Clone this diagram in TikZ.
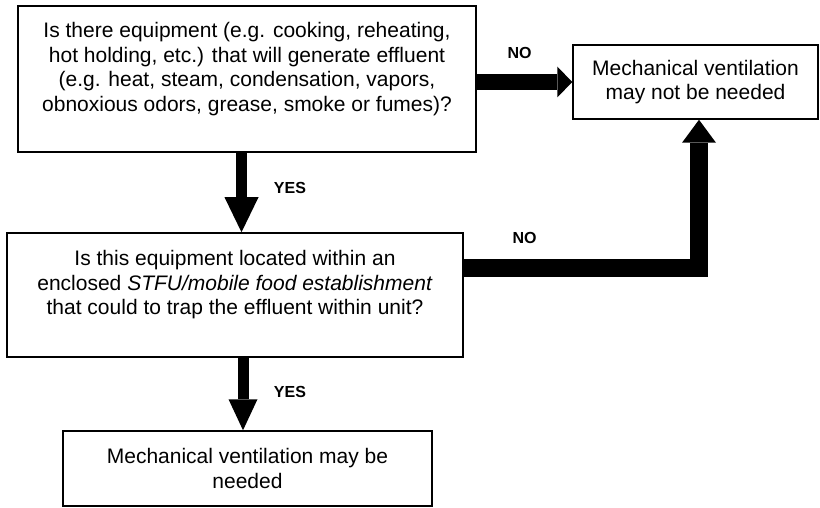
\documentclass[tikz,border=0pt]{standalone}
\usepackage{fontspec}
\setmainfont{Liberation Sans}
\usetikzlibrary{arrows.meta}

\begin{document}
\begin{tikzpicture}[x=1pt, y=-1pt, line join=miter,
      font=\fontsize{21}{24.5}\selectfont,
      box/.style={draw, line width=1.5pt, align=center, inner sep=0pt},
      answer/.style={font=\fontsize{16}{18}\selectfont\bfseries, inner sep=0pt},
      fat/.style={line width=#1}]
    \useasboundingbox (0,0) rectangle (820,508);
    % ==== decision boxes ====
    \node[box, minimum width=458, minimum height=146] (q1) at (247,79)
      {Is there equipment (e.g. cooking, reheating,\\
       hot holding, etc.) that will generate effluent\\
       (e.g. heat, steam, condensation, vapors,\\
       obnoxious odors, grease, smoke or fumes)?\\ \mbox{}};
    \node[box, minimum width=456, minimum height=124] (q3) at (235,295)
      {Is this equipment located within an\\
       enclosed \textit{STFU/mobile food establishment}\\
       that could to trap the effluent within unit?\\ \mbox{}};
    % ==== outcome boxes ====
    \node[box, minimum width=245, minimum height=74] (notNeeded) at (695.5,82)
      {Mechanical ventilation\\ may not be needed};
    \node[box, minimum width=369, minimum height=75] (needed) at (247.5,468.5)
      {Mechanical ventilation may be\\ needed};
    % ==== answers ====
    \node[answer] (yes1) at (290,188) {YES};
    \node[answer] (yes2) at (290,392) {YES};
    \node[answer] (no1) at (519.5,53) {NO};
    \node[answer] (no2) at (524.5,238) {NO};
    % ==== fat arrows ====
    \coordinate (down1) at (241.5,0);
    \coordinate (down2) at (243,0);
    \coordinate (bend) at (699,268);
    \draw[fat=11pt, -{Triangle[width=34pt, length=35pt, line width=0pt]}]
      (q1.south -| down1) -- (q3.north -| down1);
    \draw[fat=11pt, -{Triangle[width=29pt, length=31pt, line width=0pt]}]
      (q3.south -| down2) -- (needed.north -| down2);
    \draw[fat=16pt, -{Triangle[width=31pt, length=15pt, line width=0pt]}]
      (q1.east |- notNeeded.west) -- (notNeeded.west);
    \draw[fat=18pt, -{Triangle[width=34pt, length=23pt, line width=0pt]}]
      (q3.east |- bend) -- (bend) -- (bend |- notNeeded.south);
\end{tikzpicture}
\end{document}
